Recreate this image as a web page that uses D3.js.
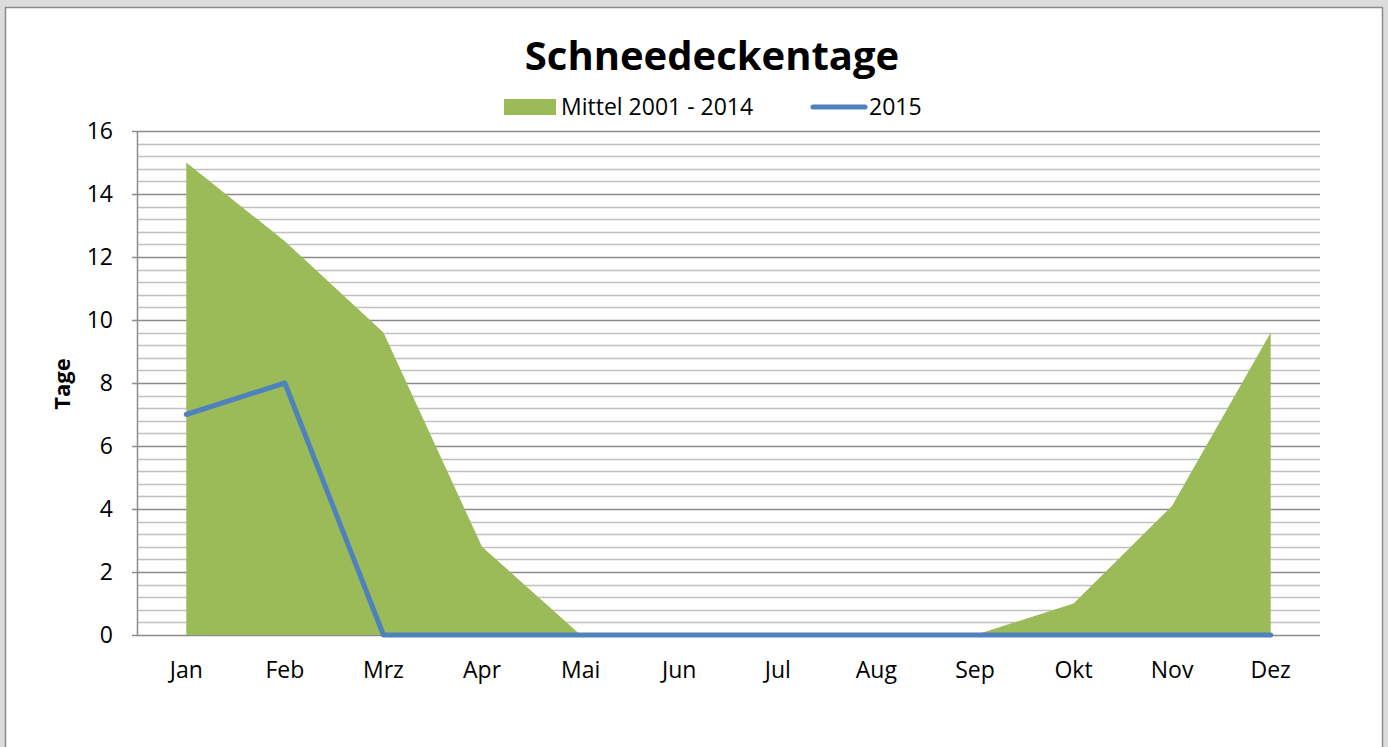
<!DOCTYPE html>
<html>
<head>
<meta charset="utf-8">
<script src="https://cdn.jsdelivr.net/npm/d3@7"></script>
<style>
  body { margin: 0; background: #dcdcdc; }
  svg { display: block; font-family: "Open Sans", "Liberation Sans", sans-serif; }
</style>
</head>
<body>
<svg id="chart" width="1388" height="747"></svg>
<script>
// Monatsnamen und Werte
var months = ["Jan", "Feb", "Mrz", "Apr", "Mai", "Jun", "Jul", "Aug", "Sep", "Okt", "Nov", "Dez"];
var mittel = [15.0, 12.5, 9.6, 2.8, 0, 0, 0, 0, 0, 1.0, 4.1, 9.6];
var jahr2015 = [7, 8, 0, 0, 0, 0, 0, 0, 0, 0, 0, 0];
var yTicks = [0, 2, 4, 6, 8, 10, 12, 14, 16];

var svg = d3.select("#chart");

// weisser Rahmen
svg.append("rect")
    .attr("x", 5.5).attr("y", 7.5)
    .attr("width", 1377).attr("height", 760)
    .style("fill", "#fff")
    .style("stroke", "#8c8c8c")
    .style("stroke-width", 1.5);

var plotLeft = 137, plotRight = 1320, plotTop = 131, plotBottom = 635;

var x = d3.scaleBand().domain(months).range([plotLeft, plotRight]);
var y = d3.scaleLinear().domain([0, 16]).range([plotBottom, plotTop]);

// Gitterlinien (klein alle 0.4, gross alle 2)
var minor = d3.range(0, 16.01, 0.4).filter(function(v) { return Math.abs(v / 2 - Math.round(v / 2)) > 0.01; });
svg.append("g").selectAll("line")
    .data(minor)
    .enter().append("line")
    .attr("x1", plotLeft).attr("x2", plotRight)
    .attr("y1", function(d) { return Math.round(y(d)) + 0.5; })
    .attr("y2", function(d) { return Math.round(y(d)) + 0.5; })
    .style("stroke", "#c0c0c0").style("stroke-width", 1.5);

svg.append("g").selectAll("line")
    .data(yTicks)
    .enter().append("line")
    .attr("x1", plotLeft - 5).attr("x2", plotRight)
    .attr("y1", function(d) { return Math.round(y(d)) + 0.5; })
    .attr("y2", function(d) { return Math.round(y(d)) + 0.5; })
    .style("stroke", "#8c8c8c").style("stroke-width", 1.5);

// y-Achse Linie
svg.append("line")
    .attr("x1", plotLeft + 0.5).attr("x2", plotLeft + 0.5)
    .attr("y1", plotTop).attr("y2", plotBottom)
    .style("stroke", "#8c8c8c").style("stroke-width", 1.5);

var cx = function(i) { return x(months[i]) + x.bandwidth() / 2; };

// Flaeche Mittel
var area = d3.area()
    .x(function(d, i) { return cx(i); })
    .y0(y(0))
    .y1(function(d) { return y(d); });

svg.append("path")
    .datum(mittel)
    .attr("d", area)
    .style("fill", "#9bbb59");

// Linie 2015
var line = d3.line()
    .x(function(d, i) { return cx(i); })
    .y(function(d) { return y(d); });

svg.append("path")
    .datum(jahr2015)
    .attr("d", line)
    .style("fill", "none")
    .style("stroke", "#4f81bd")
    .style("stroke-width", 5)
    .style("stroke-linecap", "round")
    .style("stroke-linejoin", "round");

// Achsenbeschriftung
svg.append("g").selectAll("text")
    .data(yTicks)
    .enter().append("text")
    .attr("x", 113)
    .attr("y", function(d) { return y(d) + 8; })
    .attr("text-anchor", "end")
    .style("font-size", "23px")
    .text(function(d) { return d; });

svg.append("g").selectAll("text")
    .data(months)
    .enter().append("text")
    .attr("x", function(d) { return x(d) + x.bandwidth() / 2; })
    .attr("y", 678)
    .attr("text-anchor", "middle")
    .style("font-size", "23px")
    .text(function(d) { return d; });

svg.append("text")
    .attr("transform", "translate(70,384) rotate(-90)")
    .attr("text-anchor", "middle")
    .style("font-size", "22px")
    .style("font-weight", "bold")
    .text("Tage");

// Titel
svg.append("text")
    .attr("x", 712).attr("y", 70)
    .attr("text-anchor", "middle")
    .style("font-size", "40px")
    .style("font-weight", "bold")
    .text("Schneedeckentage");

// Legende
svg.append("rect")
    .attr("x", 504).attr("y", 99)
    .attr("width", 52).attr("height", 16)
    .style("fill", "#9bbb59");
svg.append("text")
    .attr("x", 561).attr("y", 115)
    .style("font-size", "23px")
    .text("Mittel 2001 - 2014");
svg.append("line")
    .attr("x1", 813).attr("x2", 865)
    .attr("y1", 107).attr("y2", 107)
    .style("stroke", "#4f81bd").style("stroke-width", 5)
    .style("stroke-linecap", "round");
svg.append("text")
    .attr("x", 869).attr("y", 115)
    .style("font-size", "23px")
    .text("2015");
</script>
</body>
</html>
